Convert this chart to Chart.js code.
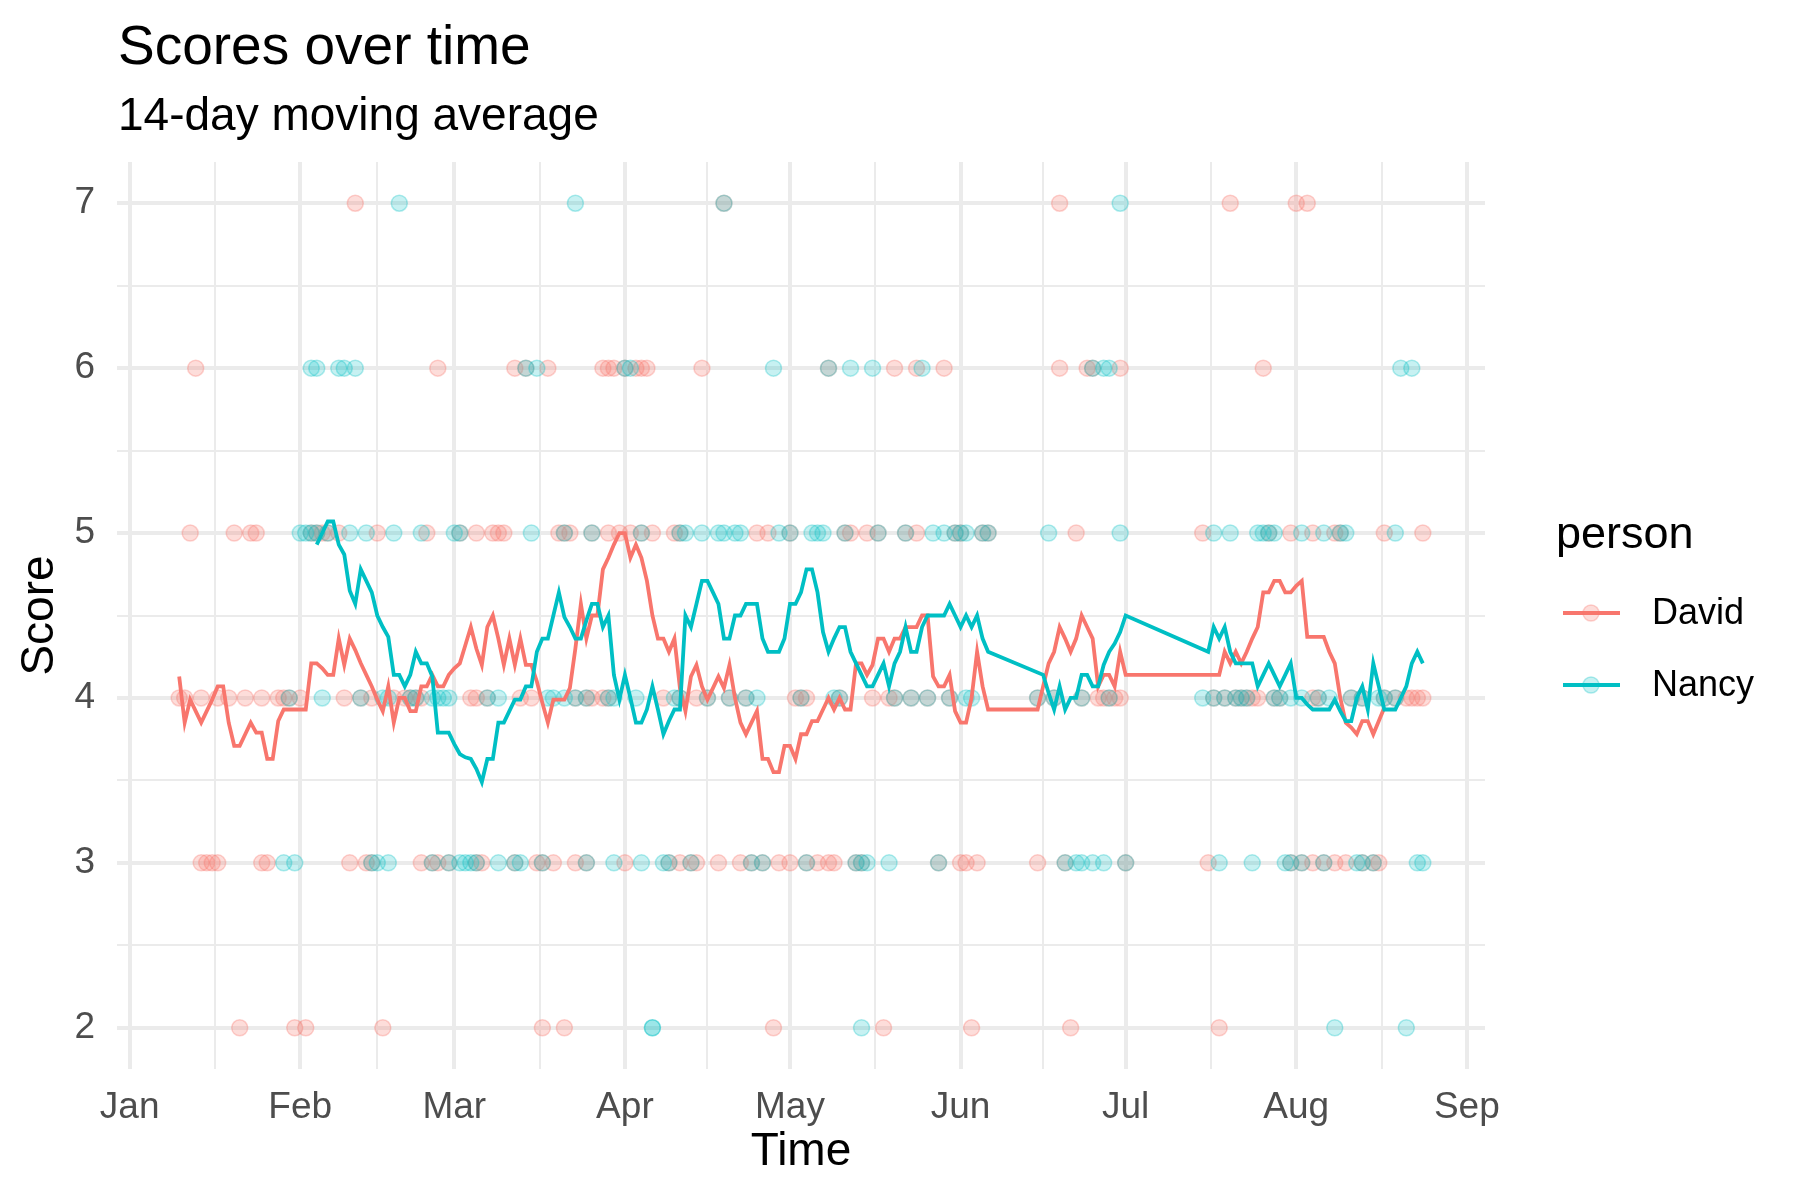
<!DOCTYPE html>
<html>
<head>
<meta charset="utf-8">
<title>Scores over time</title>
<script src="https://cdn.jsdelivr.net/npm/chart.js@4.4.1/dist/chart.umd.min.js"></script>
<style>
  html, body { margin: 0; padding: 0; background: #ffffff; }
  #wrap { width: 1800px; height: 1200px; }
</style>
</head>
<body>
<div id="wrap"><canvas id="scoreCanvas" width="1800" height="1200"></canvas></div>
<script>
// days are counted from 1 January (day 0)
const monthStarts = [0, 31, 59, 90, 120, 151, 181, 212, 243];
const monthLabels = ["Jan", "Feb", "Mar", "Apr", "May", "Jun", "Jul", "Aug", "Sep"];
const scoreTicks = [2, 3, 4, 5, 6, 7];
const people = ["David", "Nancy"];

// single scores: days on which each score was given
const david2 = [20, 30, 32, 46, 75, 79, 117, 137, 153, 171, 198];
const david3 = [13, 14, 15, 16, 24, 25, 40, 43, 44, 53, 55, 56, 58, 63, 64, 70, 74, 75, 77, 81, 83, 90, 98, 100, 102, 103, 107, 111, 113, 115, 118, 120, 123, 125, 127, 128, 132, 133, 147, 151, 152, 154, 165, 170, 181, 196, 211, 213, 215, 217, 219, 221, 224, 226, 227];
const david4 = [9, 10, 13, 16, 18, 21, 24, 27, 28, 29, 31, 39, 42, 44, 48, 50, 51, 52, 53, 62, 63, 65, 71, 73, 81, 83, 84, 86, 87, 97, 100, 103, 105, 109, 112, 121, 122, 123, 129, 135, 138, 139, 142, 145, 149, 165, 168, 173, 176, 177, 178, 179, 180, 197, 199, 201, 202, 203, 204, 205, 208, 209, 215, 216, 222, 224, 228, 230, 232, 233, 234, 235];
const david5 = [11, 19, 22, 23, 33, 34, 35, 36, 38, 45, 54, 60, 63, 66, 67, 68, 78, 79, 80, 84, 87, 89, 91, 93, 95, 99, 100, 114, 116, 120, 130, 131, 134, 136, 141, 143, 150, 151, 155, 156, 172, 195, 207, 211, 215, 219, 220, 228, 235];
const david6 = [12, 56, 70, 72, 76, 86, 87, 88, 90, 92, 93, 94, 104, 127, 139, 143, 148, 169, 174, 175, 180, 206];
const david7 = [41, 108, 169, 200, 212, 214];

const nancy2 = [95, 95, 133, 219, 232];
const nancy3 = [28, 30, 44, 45, 47, 55, 58, 60, 61, 62, 63, 67, 70, 71, 75, 83, 88, 93, 97, 98, 102, 113, 115, 123, 132, 133, 134, 138, 147, 170, 172, 173, 175, 177, 181, 198, 204, 210, 211, 213, 217, 223, 224, 226, 234, 235];
const nancy4 = [29, 35, 42, 46, 47, 51, 52, 55, 56, 57, 58, 65, 67, 76, 77, 79, 81, 83, 87, 88, 92, 99, 100, 105, 109, 112, 114, 122, 128, 129, 139, 142, 145, 149, 152, 153, 165, 168, 173, 178, 195, 197, 199, 201, 202, 203, 208, 209, 211, 213, 216, 218, 222, 224, 227, 228, 230];
const nancy5 = [31, 32, 33, 34, 36, 40, 43, 48, 53, 59, 60, 73, 79, 84, 93, 100, 101, 104, 107, 108, 110, 111, 118, 120, 124, 125, 126, 130, 136, 141, 146, 148, 150, 151, 152, 155, 156, 167, 180, 197, 200, 205, 206, 207, 208, 213, 217, 220, 221, 230];
const nancy6 = [33, 34, 38, 39, 41, 72, 74, 90, 91, 117, 127, 131, 135, 144, 175, 177, 178, 231, 233];
const nancy7 = [49, 81, 108, 180];

// 14-day moving average
const davidAvgDay = [9, 10, 11, 12, 13, 14, 15, 16, 17, 18, 19, 20, 21, 22, 23, 24, 25, 26, 27, 28, 32, 33, 34, 35, 36, 37, 38, 39, 40, 41, 42, 43, 44, 45, 46, 47, 48, 49, 50, 51, 52, 53, 54, 55, 56, 57, 58, 59, 60, 61, 62, 63, 64, 65, 66, 67, 68, 69, 70, 71, 72, 73, 74, 75, 76, 77, 79, 80, 81, 82, 83, 84, 85, 86, 87, 88, 89, 90, 91, 92, 93, 94, 95, 96, 97, 98, 99, 100, 101, 102, 103, 104, 105, 106, 107, 108, 109, 110, 111, 112, 113, 114, 115, 116, 117, 118, 119, 120, 121, 122, 123, 124, 125, 126, 127, 128, 129, 130, 131, 132, 133, 134, 135, 136, 137, 138, 139, 140, 141, 143, 144, 145, 146, 147, 148, 149, 150, 151, 152, 153, 154, 155, 156, 165, 166, 167, 168, 169, 170, 171, 172, 173, 174, 175, 176, 177, 178, 179, 180, 181, 198, 199, 200, 201, 202, 203, 204, 205, 206, 207, 208, 209, 210, 211, 212, 213, 214, 217, 218, 219, 220, 221, 222, 223, 224, 225, 226, 227, 228];
const davidAvg = [4.13, 3.85, 3.99, 3.92, 3.85, 3.92, 3.99, 4.07, 4.07, 3.85, 3.71, 3.71, 3.78, 3.85, 3.79, 3.79, 3.63, 3.63, 3.86, 3.93, 3.93, 4.21, 4.21, 4.18, 4.14, 4.14, 4.36, 4.20, 4.36, 4.29, 4.21, 4.14, 4.07, 3.99, 3.92, 4.07, 3.85, 4.00, 4.00, 3.92, 3.92, 4.07, 4.07, 4.14, 4.07, 4.07, 4.14, 4.18, 4.21, 4.32, 4.43, 4.30, 4.20, 4.43, 4.50, 4.36, 4.20, 4.36, 4.20, 4.36, 4.20, 4.20, 4.10, 3.97, 3.85, 3.99, 3.99, 4.06, 4.30, 4.57, 4.36, 4.50, 4.50, 4.78, 4.85, 4.93, 5.00, 5.00, 4.85, 4.93, 4.85, 4.71, 4.50, 4.36, 4.36, 4.28, 4.36, 4.06, 3.92, 4.13, 4.20, 4.07, 3.99, 4.06, 4.13, 4.06, 4.20, 4.00, 3.85, 3.78, 3.85, 3.92, 3.63, 3.63, 3.55, 3.55, 3.71, 3.71, 3.63, 3.78, 3.78, 3.86, 3.86, 3.93, 4.00, 3.93, 4.00, 3.93, 3.93, 4.21, 4.21, 4.14, 4.20, 4.36, 4.36, 4.28, 4.36, 4.36, 4.43, 4.43, 4.50, 4.50, 4.13, 4.07, 4.07, 4.14, 3.92, 3.85, 3.85, 4.00, 4.28, 4.07, 3.93, 3.93, 4.07, 4.21, 4.28, 4.43, 4.36, 4.28, 4.36, 4.50, 4.43, 4.36, 4.07, 4.14, 4.14, 4.07, 4.28, 4.14, 4.14, 4.28, 4.21, 4.28, 4.21, 4.28, 4.36, 4.43, 4.64, 4.64, 4.71, 4.71, 4.64, 4.64, 4.68, 4.71, 4.37, 4.37, 4.28, 4.21, 4.00, 3.85, 3.82, 3.78, 3.86, 3.86, 3.78, 3.86, 3.94];

const nancyAvgDay = [34, 35, 36, 37, 38, 39, 40, 41, 42, 43, 44, 45, 46, 47, 48, 49, 50, 51, 52, 53, 54, 55, 56, 57, 58, 59, 60, 61, 62, 63, 64, 65, 66, 67, 68, 69, 70, 71, 72, 73, 74, 75, 76, 77, 78, 79, 80, 81, 82, 83, 84, 85, 86, 87, 88, 89, 90, 91, 92, 93, 94, 95, 96, 97, 98, 99, 100, 101, 102, 103, 104, 105, 106, 107, 108, 109, 110, 111, 112, 113, 114, 115, 116, 117, 118, 119, 120, 121, 122, 123, 124, 125, 126, 127, 128, 129, 130, 131, 132, 133, 134, 135, 136, 137, 138, 139, 140, 141, 142, 143, 144, 145, 148, 149, 150, 151, 152, 153, 154, 155, 156, 166, 167, 168, 169, 170, 171, 172, 173, 174, 175, 176, 177, 178, 179, 180, 181, 196, 197, 198, 199, 200, 201, 204, 205, 206, 207, 208, 209, 210, 211, 212, 213, 214, 215, 218, 219, 220, 221, 222, 223, 224, 225, 226, 227, 228, 230, 231, 232, 233, 234, 235];
const nancyAvg = [4.93, 5.00, 5.07, 5.07, 4.93, 4.87, 4.65, 4.57, 4.78, 4.71, 4.64, 4.50, 4.43, 4.37, 4.14, 4.14, 4.07, 4.14, 4.28, 4.21, 4.21, 4.13, 3.79, 3.79, 3.79, 3.72, 3.66, 3.64, 3.63, 3.57, 3.49, 3.63, 3.63, 3.85, 3.85, 3.92, 3.99, 3.99, 4.07, 4.07, 4.28, 4.36, 4.36, 4.50, 4.64, 4.49, 4.43, 4.36, 4.36, 4.47, 4.57, 4.57, 4.43, 4.50, 4.14, 3.99, 4.14, 4.00, 3.85, 3.85, 3.93, 4.07, 3.93, 3.78, 3.86, 3.93, 3.93, 4.50, 4.43, 4.57, 4.71, 4.71, 4.64, 4.57, 4.36, 4.36, 4.50, 4.50, 4.57, 4.57, 4.57, 4.36, 4.28, 4.28, 4.28, 4.36, 4.57, 4.57, 4.64, 4.78, 4.78, 4.64, 4.40, 4.28, 4.36, 4.43, 4.43, 4.28, 4.21, 4.14, 4.07, 4.07, 4.14, 4.21, 4.07, 4.21, 4.28, 4.43, 4.28, 4.28, 4.43, 4.50, 4.50, 4.57, 4.50, 4.43, 4.50, 4.43, 4.50, 4.36, 4.28, 4.14, 4.03, 3.93, 4.07, 3.93, 4.00, 4.00, 4.14, 4.14, 4.07, 4.07, 4.20, 4.28, 4.33, 4.40, 4.50, 4.28, 4.43, 4.36, 4.43, 4.28, 4.21, 4.21, 4.07, 4.14, 4.21, 4.14, 4.07, 4.14, 4.21, 4.00, 4.00, 3.96, 3.93, 3.93, 3.99, 3.92, 3.86, 3.86, 4.00, 4.07, 3.93, 4.21, 4.07, 3.93, 3.93, 4.00, 4.07, 4.21, 4.28, 4.21];

const FONT = "'Liberation Sans', Arial, Helvetica, sans-serif";
const RED = "#F8766D";
const CYAN = "#00BFC4";
const RED_FILL = "rgba(248,118,109,0.25)";
const RED_EDGE = "rgba(248,118,109,0.32)";
const CYAN_FILL = "rgba(0,191,196,0.22)";
const CYAN_EDGE = "rgba(0,191,196,0.3)";

function toPoints(days, score) {
  return days.map(d => ({ x: d, y: score }));
}
function toLine(days, values) {
  return days.map((d, i) => ({ x: d, y: values[i] }));
}

const davidPoints = [].concat(
  toPoints(david2, 2), toPoints(david3, 3), toPoints(david4, 4),
  toPoints(david5, 5), toPoints(david6, 6), toPoints(david7, 7));
const nancyPoints = [].concat(
  toPoints(nancy2, 2), toPoints(nancy3, 3), toPoints(nancy4, 4),
  toPoints(nancy5, 5), toPoints(nancy6, 6), toPoints(nancy7, 7));

// minor grid lines halfway between the breaks, like ggplot
const xMinor = monthStarts.slice(1).map((m, i) => (m + monthStarts[i]) / 2);
const yMinor = scoreTicks.slice(1).map((s, i) => (s + scoreTicks[i]) / 2);
const xTickValues = monthStarts.concat(xMinor).sort((a, b) => a - b);
const yTickValues = scoreTicks.concat(yMinor).sort((a, b) => a - b);

const decorations = {
  id: "decorations",
  afterDraw(chart) {
    const ctx = chart.ctx;
    ctx.save();
    ctx.fillStyle = "#000000";
    ctx.textAlign = "left";
    ctx.textBaseline = "alphabetic";
    ctx.font = "55px " + FONT;
    ctx.fillText("Scores over time", 118, 64);
    ctx.font = "46px " + FONT;
    ctx.fillText("14-day moving average", 118, 130);

    // legend
    ctx.font = "45px " + FONT;
    ctx.fillText("person", 1556, 548);
    const lineCols = [RED, CYAN];
    const fills = [RED_FILL, CYAN_FILL];
    const edges = [RED_EDGE, CYAN_EDGE];
    people.forEach((name, i) => {
      const y = 613 + i * 72;
      ctx.strokeStyle = lineCols[i];
      ctx.lineWidth = 4;
      ctx.beginPath();
      ctx.moveTo(1563, y);
      ctx.lineTo(1620, y);
      ctx.stroke();
      ctx.beginPath();
      ctx.arc(1591, y, 8, 0, Math.PI * 2);
      ctx.fillStyle = fills[i];
      ctx.fill();
      ctx.lineWidth = 1.5;
      ctx.strokeStyle = edges[i];
      ctx.stroke();
      ctx.fillStyle = "#000000";
      ctx.font = "36px " + FONT;
      ctx.textBaseline = "middle";
      ctx.fillText(name, 1652, y + 1);
    });
    ctx.restore();
  }
};

const scoreChart = new Chart(document.getElementById("scoreCanvas"), {
  type: "scatter",
  data: {
    datasets: [
      {
        label: people[0] + " average",
        type: "line",
        data: toLine(davidAvgDay, davidAvg),
        borderColor: RED,
        borderWidth: 3.8,
        pointRadius: 0,
        tension: 0,
        fill: false,
        order: 2
      },
      {
        label: people[1] + " average",
        type: "line",
        data: toLine(nancyAvgDay, nancyAvg),
        borderColor: CYAN,
        borderWidth: 3.8,
        pointRadius: 0,
        tension: 0,
        fill: false,
        order: 1
      },
      {
        label: people[0],
        data: davidPoints,
        backgroundColor: RED_FILL,
        borderColor: RED_EDGE,
        borderWidth: 1.5,
        pointRadius: 8,
        order: 4
      },
      {
        label: people[1],
        data: nancyPoints,
        backgroundColor: CYAN_FILL,
        borderColor: CYAN_EDGE,
        borderWidth: 1.5,
        pointRadius: 8,
        order: 3
      }
    ]
  },
  options: {
    responsive: false,
    devicePixelRatio: 1,
    animation: false,
    events: [],
    layout: { padding: { top: 162, right: 315, bottom: 0, left: 0 } },
    plugins: {
      legend: { display: false },
      tooltip: { enabled: false }
    },
    scales: {
      x: {
        type: "linear",
        min: -2.3,
        max: 246.3,
        afterBuildTicks: s => { s.ticks = xTickValues.map(v => ({ value: v })); },
        afterFit: s => { s.height = 131; },
        border: { display: false },
        grid: {
          color: "#EBEBEB",
          drawTicks: false,
          lineWidth: c => (c.tick && monthStarts.includes(c.tick.value)) ? 4 : 2
        },
        ticks: {
          autoSkip: false,
          maxRotation: 0,
          padding: 17,
          color: "#4D4D4D",
          font: { family: FONT, size: 37 },
          callback: v => {
            const i = monthStarts.indexOf(v);
            return i >= 0 ? monthLabels[i] : "";
          }
        },
        title: {
          display: true,
          text: "Time",
          color: "#000000",
          font: { family: FONT, size: 46, lineHeight: 1 },
          padding: { top: 0, bottom: 25 }
        }
      },
      y: {
        type: "linear",
        min: 1.75,
        max: 7.25,
        afterBuildTicks: s => { s.ticks = yTickValues.map(v => ({ value: v })); },
        afterFit: s => { s.width = 117; },
        border: { display: false },
        grid: {
          color: "#EBEBEB",
          drawTicks: false,
          lineWidth: c => (c.tick && Number.isInteger(c.tick.value)) ? 4 : 2
        },
        ticks: {
          autoSkip: false,
          padding: 22,
          color: "#4D4D4D",
          font: { family: FONT, size: 37 },
          callback: v => Number.isInteger(v) ? String(v) : ""
        },
        title: {
          display: true,
          text: "Score",
          color: "#000000",
          font: { family: FONT, size: 46, lineHeight: 1 },
          padding: { top: 17, bottom: 0 }
        }
      }
    }
  },
  plugins: [decorations]
});
</script>
</body>
</html>
